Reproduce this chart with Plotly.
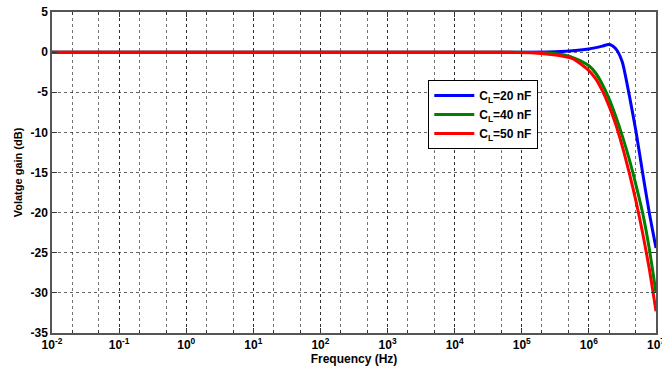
import numpy as np
import plotly.graph_objects as go

# log10(frequency) sample points and gains (dB)
blue_logf = [-2, 5.0, 5.5, 5.8, 6.0, 6.2, 6.29, 6.35, 6.42, 6.5, 6.6, 6.7, 6.8, 6.9, 7.0]
blue_db = [0, 0, 0.05, 0.2, 0.4, 0.75, 0.95, 0.8, 0.2, -1.3, -5.3, -9.8, -15.0, -20.0, -24.4]

green_logf = [-2, 5.0, 5.4, 5.6, 5.8, 6.0, 6.1, 6.2, 6.3, 6.4, 6.5, 6.6, 6.7, 6.8, 6.9, 7.0]
green_db = [0, 0, -0.1, -0.3, -0.8, -1.7, -2.6, -4.0, -5.8, -8.0, -10.5, -13.3, -16.5, -20.0, -24.5, -30.0]

red_logf = [-2, 4.8, 5.2, 5.5, 5.76, 6.0, 6.1, 6.2, 6.3, 6.4, 6.5, 6.6, 6.7, 6.8, 6.9, 7.0]
red_db = [0, 0, -0.1, -0.35, -0.8, -2.3, -3.3, -4.8, -6.7, -9.0, -11.8, -15.0, -18.5, -22.5, -27.0, -32.3]

series_names = ["C<sub>L</sub>=20 nF", "C<sub>L</sub>=40 nF", "C<sub>L</sub>=50 nF"]
series_colors = ["#0000ff", "#008000", "#ff0000"]

x_tickvals = [10.0 ** k for k in range(-2, 8)]
x_ticktext = ["<b>10<sup>%d</sup></b>" % k for k in range(-2, 8)]
y_tickvals = [5, 0, -5, -10, -15, -20, -25, -30, -35]

FONT = "Liberation Sans, Arial, sans-serif"

fig = go.Figure()
for lf, db, name, col in zip([blue_logf, green_logf, red_logf],
                             [blue_db, green_db, red_db], series_names, series_colors):
    fig.add_trace(go.Scatter(
        x=[10.0 ** v for v in lf], y=db, mode="lines", name=name,
        line=dict(color=col, width=3, shape="spline", smoothing=0.6),
    ))

grid = dict(gridcolor="rgba(0,0,0,0.6)", griddash="dot", gridwidth=1)
fig.update_xaxes(
    type="log", range=[-2, 7], tickvals=x_tickvals, ticktext=x_ticktext,
    showline=True, linecolor="#555", linewidth=1.5, mirror="allticks",
    ticks="inside", ticklen=5, tickcolor="#333",
    showgrid=True, **grid,
    minor=dict(showgrid=True, gridcolor="rgba(0,0,0,0.55)", griddash="dot",
               ticks="inside", ticklen=3, tickcolor="#333"),
    tickfont=dict(family=FONT, size=12, color="black"),
    ticklabeloverflow="allow", automargin=False,
    title=dict(text="<b>Frequency (Hz)</b>", font=dict(family=FONT, size=12, color="black"), standoff=2),
    zeroline=False,
)
fig.update_yaxes(
    range=[-35, 5], tickvals=y_tickvals, ticktext=["<b>%d</b>" % v for v in y_tickvals],
    showline=True, linecolor="#555", linewidth=1.5, mirror="allticks",
    ticks="inside", ticklen=5, tickcolor="#333",
    showgrid=True, **grid,
    tickfont=dict(family=FONT, size=12, color="black"),
    automargin=False,
    title=dict(text="<b>Volatge gain (dB)</b>", font=dict(family=FONT, size=11, color="black"), standoff=6),
    zeroline=False,
)
fig.update_layout(
    width=662, height=368,
    margin=dict(l=52, r=6, t=12, b=35, autoexpand=False),
    plot_bgcolor="white", paper_bgcolor="white",
    font=dict(family=FONT, size=11, color="black"),
    legend=dict(
        x=0.623, y=0.788, xanchor="left", yanchor="top",
        bgcolor="white", bordercolor="black", borderwidth=1,
        font=dict(family=FONT, size=12, color="black", weight="bold"),
        tracegroupgap=0, itemwidth=40,
    ),
)
fig.write_html("out.html", config={"displayModeBar": False},
               post_script="document.body.style.margin='0';document.body.style.padding='0';")
